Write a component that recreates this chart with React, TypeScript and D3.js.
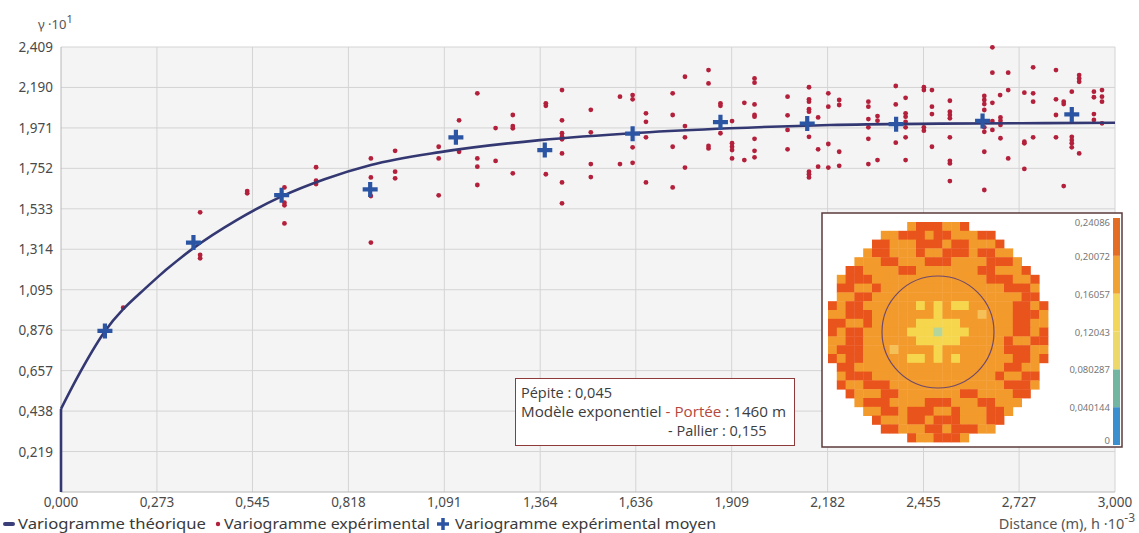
import { useEffect, useRef } from "react";
import * as d3 from "d3";

// tick labels as printed (comma decimals)
const xTickLabels = ["0,000", "0,273", "0,545", "0,818", "1,091", "1,364", "1,636", "1,909", "2,182", "2,455", "2,727", "3,000"];
const yTickLabels = ["0,219", "0,438", "0,657", "0,876", "1,095", "1,314", "1,533", "1,752", "1,971", "2,190", "2,409"];

// theoretical variogram (h·10^-3, γ·10)
const nugget = 0.45;
const modelH = [0, 0.045, 0.125, 0.25, 0.377, 0.5, 0.628, 0.75, 0.882, 1.079, 1.363, 1.648, 1.904, 2.189, 2.5, 2.8, 3.0];
const modelV = [0.45, 0.615, 0.87, 1.12, 1.32, 1.472, 1.6, 1.693, 1.77, 1.84, 1.905, 1.945, 1.969, 1.987, 1.994, 1.997, 1.999];

// mean experimental variogram (blue crosses)
const meanH = [0.125, 0.377, 0.628, 0.88, 1.124, 1.377, 1.627, 1.877, 2.124, 2.377, 2.623, 2.877];
const meanV = [0.872, 1.35, 1.607, 1.638, 1.92, 1.851, 1.94, 2.002, 1.995, 1.991, 2.009, 2.044];

// experimental variogram cloud (red dots) [h, γ]
const expPoints: [number, number][] = [
  [0.177, 0.998], [0.396, 1.514], [0.396, 1.283], [0.396, 1.265], [0.53, 1.629], [0.53, 1.617],
  [0.636, 1.649], [0.636, 1.566], [0.636, 1.552], [0.636, 1.454], [0.726, 1.758], [0.726, 1.685],
  [0.726, 1.667], [0.882, 1.806], [0.882, 1.703], [0.882, 1.602], [0.882, 1.35], [0.951, 1.847],
  [0.951, 1.734], [0.951, 1.698], [1.075, 1.869], [1.075, 1.806], [1.075, 1.606],
  [1.133, 2.012], [1.133, 1.842], [1.185, 2.158], [1.185, 1.806], [1.185, 1.761], [1.185, 1.662],
  [1.237, 1.97], [1.237, 1.792], [1.286, 2.041], [1.286, 1.981], [1.286, 1.969], [1.286, 1.725],
  [1.38, 2.104], [1.38, 2.091], [1.38, 1.72], [1.426, 2.176], [1.426, 2.012], [1.426, 1.942],
  [1.426, 1.923], [1.426, 1.909], [1.426, 1.833], [1.426, 1.676], [1.426, 1.563], [1.508, 2.069],
  [1.508, 1.947], [1.508, 1.775], [1.508, 1.705], [1.591, 2.14], [1.591, 1.775], [1.627, 2.149],
  [1.627, 2.126], [1.627, 1.866], [1.627, 1.782],
  [1.665, 2.05], [1.665, 2.004], [1.665, 1.92], [1.665, 1.676], [1.741, 2.158], [1.741, 2.041],
  [1.741, 1.869], [1.741, 1.649], [1.776, 2.248], [1.776, 1.981], [1.776, 1.92], [1.776, 1.756],
  [1.843, 2.284], [1.843, 2.212], [1.843, 1.873], [1.843, 1.86], [1.877, 2.104], [1.877, 2.091],
  [1.877, 1.942], [1.91, 2.008], [1.91, 1.888], [1.91, 1.869], [1.91, 1.851], [1.91, 1.806],
  [1.945, 2.107], [1.945, 1.797], [1.974, 2.239], [1.974, 2.216], [1.974, 2.098], [1.974, 2.041],
  [1.974, 2.032], [1.974, 1.912], [1.974, 1.847], [1.974, 1.812], [2.068, 2.14], [2.068, 2.039],
  [2.068, 1.96], [2.068, 1.855], [2.129, 2.191], [2.129, 2.126], [2.129, 2.113], [2.129, 2.072],
  [2.129, 2.059], [2.129, 1.923], [2.129, 1.734], [2.129, 1.72], [2.129, 1.703], [2.155, 2.028],
  [2.155, 1.855], [2.155, 1.761], [2.184, 2.158], [2.184, 2.086], [2.184, 1.884], [2.184, 1.756],
  [2.215, 2.122], [2.215, 2.095], [2.215, 1.842], [2.215, 1.766], [2.298, 2.113], [2.298, 2.086],
  [2.298, 2.019], [2.298, 1.974], [2.298, 1.912], [2.298, 1.775], [2.324, 2.035], [2.324, 2.01],
  [2.324, 1.797], [2.376, 2.198], [2.376, 2.098], [2.376, 1.891], [2.404, 2.134], [2.404, 2.05],
  [2.404, 2.032], [2.404, 2.004], [2.404, 1.974], [2.404, 1.92], [2.404, 1.797], [2.456, 2.191],
  [2.456, 2.176], [2.456, 1.974], [2.456, 1.956], [2.479, 2.176], [2.479, 2.086], [2.479, 2.046],
  [2.479, 1.869], [2.53, 2.118], [2.53, 2.059], [2.53, 2.041], [2.53, 2.023], [2.53, 1.92],
  [2.53, 1.793], [2.53, 1.779], [2.53, 1.683], [2.628, 2.144], [2.628, 2.122], [2.628, 2.1],
  [2.628, 2.068], [2.628, 1.974], [2.628, 1.95], [2.628, 1.842], [2.628, 1.635], [2.651, 2.407],
  [2.651, 2.27], [2.651, 2.107], [2.651, 2.008], [2.651, 1.96], [2.673, 2.149],
  [2.674, 2.028], [2.674, 2.01], [2.674, 1.987], [2.674, 1.915], [2.696, 2.27], [2.696, 2.176],
  [2.696, 1.806], [2.742, 2.162], [2.742, 1.896], [2.742, 1.888], [2.742, 1.749], [2.767, 2.299],
  [2.767, 2.158], [2.767, 2.113], [2.767, 1.92], [2.832, 2.284], [2.832, 2.126], [2.832, 2.041],
  [2.832, 1.92], [2.854, 2.113], [2.854, 2.1], [2.854, 1.656], [2.877, 2.167], [2.877, 1.923],
  [2.877, 1.905], [2.877, 1.888], [2.877, 1.866], [2.898, 2.257], [2.898, 2.239], [2.898, 2.221],
  [2.898, 1.833], [2.94, 2.167], [2.94, 2.137], [2.94, 2.046], [2.94, 2.014], [2.963, 2.176],
  [2.963, 2.14], [2.963, 2.113], [2.963, 1.996],
];

// variogram map (inset), one letter per cell
const mapRows = [
  ".........ORRROOR.........",
  "......OORRRORROOORR......",
  ".....RROOORRRORROOOR.....",
  "....ORROOOROORRRORROO....",
  "...OOORROOORRROOOORRRO...",
  "..RROOOORROOOOOOORROOOR..",
  ".ORRROOOOOOOOOOOOORRROOR.",
  ".RROOROOOOOOOOOOOOOORRRO.",
  ".OORROOOOOOOOOOOOOOOOORR.",
  "RORROOOOOOYOYOYYOOOOORROR",
  "OORRROOOOOOOYOOOOLOOORRRO",
  "RROOROOOOOYYYYYOOOOOORROO",
  "RORROOOOOYYYGYYYOOOOORROR",
  "OORROOOOOOYYYYYOOOOOROORR",
  "ORRROOOLOOOOYOOOOOOORRROO",
  "RORROOOOOYYOYOYOOOOOORROR",
  ".RROOOOOOOOOOOOOOOOORROO.",
  ".ORRROOOOOOOOOOOOOOROORR.",
  ".ROORRROOOOOOOOOOOOORRRO.",
  "..ROOORROOOOOOORROOOORR..",
  "...ORRROOOORRROOORROOO...",
  "....OORRORRROOROOORRO....",
  ".....ROOORRORRROOORR.....",
  "......RROOORRORRROO......",
  ".........ROORRRO.........",
];
const mapColors: Record<string, string> = { R: "#e9541d", O: "#f39a2c", L: "#f6c058", Y: "#f5d64c", G: "#b4d69c" };

// colour bar of the inset
const barLevels = [0, 0.040144, 0.080287, 0.12043, 0.16057, 0.20072, 0.24086];
const barLabels = ["0", "0,040144", "0,080287", "0,12043", "0,16057", "0,20072", "0,24086"];
const barColors = ["#3b8fcf", "#72b6a2", "#ecd96a", "#f3d65c", "#f0a234", "#e36d22"];

const legendItems = ["Variogramme théorique", "Variogramme expérimental", "Variogramme expérimental moyen"];

const FONT = "'Noto Sans', sans-serif";

function Variogram() {
  const svgRef = useRef<SVGSVGElement>(null);
  const width = 1139;
  const height = 533;

  useEffect(() => {
    const svg = d3.select(svgRef.current);
    svg.selectAll("*").remove();

    const x = d3.scaleLinear().domain([0, 3]).range([61, 1115]);
    const y = d3.scaleLinear().domain([0, 2.409]).range([492, 47]);
    const num = (s: string) => +s.replace(",", ".");

    // plot background
    svg.append("rect")
      .attr("x", x(0)).attr("y", y(2.409))
      .attr("width", x(3) - x(0)).attr("height", y(0) - y(2.409))
      .attr("fill", "#f4f4f4");

    // grid
    const grid = svg.append("g").attr("stroke", "#d4d4d4").attr("stroke-width", 1);
    xTickLabels.slice(1).forEach(t => {
      grid.append("line")
        .attr("x1", x(num(t))).attr("x2", x(num(t)))
        .attr("y1", y(0)).attr("y2", y(2.409));
    });
    yTickLabels.forEach(t => {
      grid.append("line")
        .attr("x1", x(0)).attr("x2", x(3))
        .attr("y1", y(num(t))).attr("y2", y(num(t)));
    });
    svg.append("line").attr("x1", x(0)).attr("x2", x(0)).attr("y1", y(0)).attr("y2", y(2.409))
      .attr("stroke", "#b8b8b8");
    svg.append("line").attr("x1", x(0)).attr("x2", x(3)).attr("y1", y(0)).attr("y2", y(0))
      .attr("stroke", "#b8b8b8");

    // tick labels
    svg.append("g").selectAll("text").data(xTickLabels).enter().append("text")
      .attr("x", d => x(num(d))).attr("y", 507)
      .attr("text-anchor", "middle")
      .attr("font-family", FONT).attr("font-size", 13.5).attr("fill", "#4a4a4a")
      .text(d => d);
    svg.append("g").selectAll("text").data(yTickLabels).enter().append("text")
      .attr("x", 53).attr("y", d => y(num(d)) + 5)
      .attr("text-anchor", "end")
      .attr("font-family", FONT).attr("font-size", 13.5).attr("fill", "#4a4a4a")
      .text(d => d);

    // axis titles
    const yt = svg.append("text").attr("x", 38).attr("y", 29)
      .attr("font-family", FONT).attr("font-size", 13).attr("fill", "#555");
    yt.append("tspan").text("γ ·10");
    yt.append("tspan").attr("dy", -6).attr("font-size", 11).text("1");

    const xt = svg.append("text").attr("x", 1135).attr("y", 529).attr("text-anchor", "end")
      .attr("font-family", FONT).attr("font-size", 14.5).attr("fill", "#555");
    xt.append("tspan").text("Distance (m), h ·10");
    xt.append("tspan").attr("dy", -7).attr("font-size", 12).text("-3");

    // experimental cloud
    svg.append("g").selectAll("circle").data(expPoints).enter().append("circle")
      .attr("cx", d => x(d[0])).attr("cy", d => y(d[1]))
      .attr("r", 2.4).attr("fill", "#b3203b");

    // theoretical model
    const line = d3.line<number>().x(i => x(modelH[i])).y(i => y(modelV[i])).curve(d3.curveMonotoneX);
    svg.append("path")
      .attr("d", `M${x(0)},${y(0)}L${x(0)},${y(nugget)}`)
      .attr("stroke", "#343872").attr("stroke-width", 2.6).attr("fill", "none");
    svg.append("path")
      .datum(d3.range(modelH.length))
      .attr("d", line)
      .attr("stroke", "#343872").attr("stroke-width", 2.6).attr("fill", "none");

    // mean experimental crosses
    svg.append("g").selectAll("path").data(d3.range(meanH.length)).enter().append("path")
      .attr("transform", i => `translate(${x(meanH[i])},${y(meanV[i])})`)
      .attr("d", "M-7.5,0H7.5M0,-7.5V7.5")
      .attr("stroke", "#2b55a2").attr("stroke-width", 4.2).attr("fill", "none");

    // parameters box
    const box = svg.append("g");
    box.append("rect").attr("x", 515.5).attr("y", 378.5).attr("width", 279).attr("height", 67)
      .attr("fill", "#fff").attr("stroke", "#8e3a3a").attr("stroke-width", 1);
    const bt = box.append("g").attr("font-family", "'Open Sans', sans-serif").attr("font-size", 14.5)
      .attr("fill", "#3c3c3c");
    bt.append("text").attr("x", 521).attr("y", 398).text("Pépite : 0,045");
    const l2 = bt.append("text").attr("x", 521).attr("y", 417).attr("textLength", 265)
      .attr("lengthAdjust", "spacingAndGlyphs");
    l2.append("tspan").text("Modèle exponentiel ");
    l2.append("tspan").attr("fill", "#b5483c").text("- Portée");
    l2.append("tspan").text(" : 1460 m");
    bt.append("text").attr("x", 668).attr("y", 436).text("- Pallier : 0,155");

    // inset variogram map
    const inset = svg.append("g");
    inset.append("rect").attr("x", 822).attr("y", 213).attr("width", 300).attr("height", 234)
      .attr("fill", "#fff").attr("stroke", "#5c3b3b").attr("stroke-width", 1.5);
    const cx = d3.scaleBand<number>().domain(d3.range(25)).range([828, 1048]);
    const cy = d3.scaleBand<number>().domain(d3.range(25)).range([222, 442]);
    mapRows.forEach((row, r) => {
      row.split("").forEach((c, k) => {
        if (c === ".") return;
        inset.append("rect")
          .attr("x", cx(k)!).attr("y", cy(r)!)
          .attr("width", cx.bandwidth() + 0.4).attr("height", cy.bandwidth() + 0.4)
          .attr("fill", mapColors[c]);
      });
    });
    inset.append("circle").attr("cx", cx(12)! + cx.bandwidth() / 2).attr("cy", cy(12)! + cy.bandwidth() / 2)
      .attr("r", 56).attr("fill", "none").attr("stroke", "#6f4a6c").attr("stroke-width", 1.2);

    const by = d3.scaleLinear().domain([0, 0.24086]).range([445, 218]);
    barColors.forEach((c, i) => {
      inset.append("rect").attr("x", 1113).attr("width", 7)
        .attr("y", by(barLevels[i + 1])).attr("height", by(barLevels[i]) - by(barLevels[i + 1]))
        .attr("fill", c);
    });
    barLabels.forEach((t, i) => {
      const yy = Math.min(Math.max(by(barLevels[i]) + 4, 226), 444);
      inset.append("text").attr("x", 1110).attr("y", yy).attr("text-anchor", "end")
        .attr("font-family", FONT).attr("font-size", 9.5).attr("fill", "#777").text(t);
    });

    // legend
    const lg = svg.append("g").attr("font-family", FONT).attr("font-size", 13.5).attr("fill", "#3a3a3a");
    lg.append("rect").attr("x", 3).attr("y", 522).attr("width", 12).attr("height", 4).attr("rx", 2)
      .attr("fill", "#3a3f7a");
    lg.append("circle").attr("cx", 218).attr("cy", 524).attr("r", 2.2).attr("fill", "#b3203b");
    lg.append("path").attr("transform", "translate(443,524)").attr("d", "M-6,0H6M0,-6V6")
      .attr("stroke", "#2b55a2").attr("stroke-width", 3.5);
    const lx = [18, 224, 455];
    const lw = [188, 206, 261];
    legendItems.forEach((t, i) => {
      lg.append("text").attr("x", lx[i]).attr("y", 529)
        .attr("textLength", lw[i]).attr("lengthAdjust", "spacingAndGlyphs").text(t);
    });
  }, []);

  return <svg ref={svgRef} width={width} height={height} style={{ display: "block" }} />;
}

export default function App() {
  return (
    <div style={{ position: "absolute", left: 0, top: 0, background: "#fff" }}>
      <Variogram />
    </div>
  );
}
